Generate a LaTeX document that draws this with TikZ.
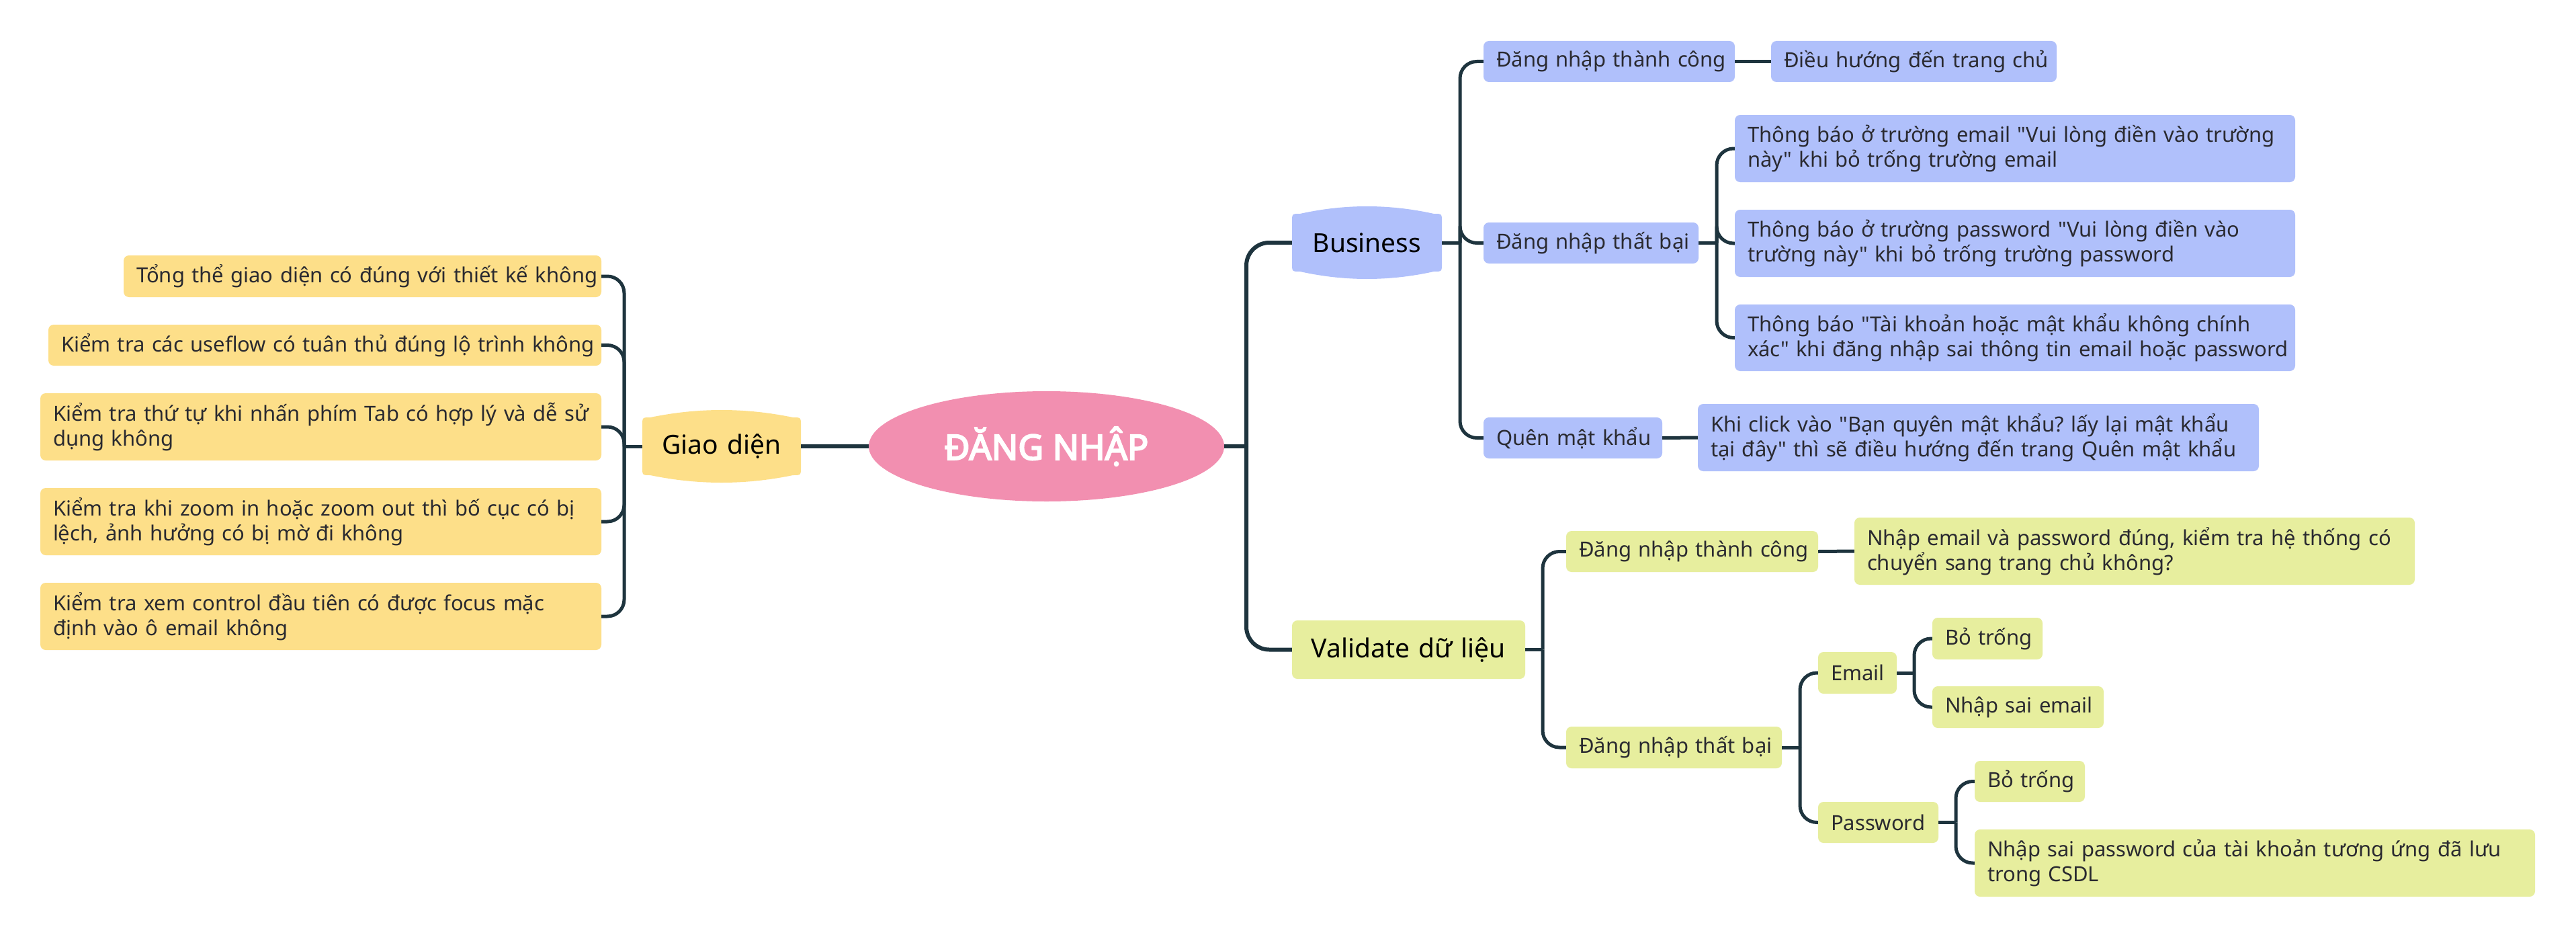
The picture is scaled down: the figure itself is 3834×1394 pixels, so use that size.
\documentclass[tikz,border=0pt]{standalone}
\usepackage{fontspec}
\setmainfont{Noto Sans}[Ligatures=TeXOff]
\newfontfamily\rootfont{Noto Sans}[Ligatures=TeXOff,FakeBold=4]
\usetikzlibrary{shapes.geometric}
\definecolor{yel}{HTML}{FDDF89}
\definecolor{blu}{HTML}{B0C0FB}
\definecolor{grn}{HTML}{E7EE9E}
\definecolor{pnk}{HTML}{F28FB0}
\definecolor{linec}{HTML}{1E343E}
\definecolor{txtc}{HTML}{2A2A30}
\frenchspacing
\newcommand\mmnode[7]{%
  \pgfmathsetmacro\mmw{#4-#2}\pgfmathsetmacro\mmh{#5-#3}%
  \pgfmathsetmacro\mmtw{#4-#2-38}%
  \node[#6, minimum width=\mmw pt, minimum height=\mmh pt, text width=\mmtw pt] (#1) at ({(#2+#4)/2},{(#3+#5)/2}) {#7};}
\newcommand\bulgebox[5]{%
  \pgfmathsetmacro\bgt{(#3-#1-24)/3}%
  \fill[#5] (#1,{#2+23}) .. controls (#1,{#2+11}) .. ({#1+12},{#2+11})
   .. controls ({#1+12+\bgt},{#2-11/3}) and ({#3-12-\bgt},{#2-11/3}) .. ({#3-12},{#2+11})
   .. controls (#3,{#2+11}) .. (#3,{#2+23})
   -- (#3,{#4-23}) .. controls (#3,{#4-11}) .. ({#3-12},{#4-11})
   .. controls ({#3-12-\bgt},{#4+11/3}) and ({#1+12+\bgt},{#4+11/3}) .. ({#1+12},{#4-11})
   .. controls (#1,{#4-11}) .. (#1,{#4-23}) -- cycle;}
\begin{document}
\begin{tikzpicture}[x=1pt,y=-1pt,
  conn/.style={draw=linec, line width=5pt, rounded corners=25pt},
  mconn/.style={draw=linec, line width=6pt, rounded corners=34pt},
  leaf/.style={rectangle, rounded corners=8pt, inner xsep=19pt, inner ysep=0pt, align=left, text=txtc, font=\fontsize{31}{37}\selectfont},
  yleaf/.style={leaf, fill=yel},
  bleaf/.style={leaf, fill=blu},
  gleaf/.style={leaf, fill=grn},
  mainlbl/.style={rectangle, inner xsep=19pt, inner ysep=0pt, align=center, text=black, font=\fontsize{39}{45}\selectfont}]
\fill[white] (0,0) rectangle (3834,1394);
\useasboundingbox (0,0) rectangle (3834,1394);

% root
\node[ellipse, fill=pnk, minimum width=529pt, minimum height=164pt, inner sep=0pt, text=white, font=\rootfont\fontsize{52}{58}\selectfont] (root) at (1557.5,664) {ĐĂNG NHẬP};

% Giao dien
\bulgebox{956}{610}{1192}{718}{yel}
\mmnode{gd}{956}{610}{1192}{718}{mainlbl}{Giao diện}
\mmnode{y1}{184}{380}{895}{442}{yleaf}{\mbox{Tổng thể giao diện có đúng với thiết kế không}}
\mmnode{y2}{72}{483}{895}{544}{yleaf}{\mbox{Kiểm tra các useflow có tuân thủ đúng lộ trình không}}
\mmnode{y3}{60}{585}{895}{685}{yleaf}{\mbox{Kiểm tra thứ tự khi nhấn phím Tab có hợp lý và dễ sử}\\\mbox{dụng không}}
\mmnode{y4}{60}{726}{895}{826}{yleaf}{\mbox{Kiểm tra khi zoom in hoặc zoom out thì bố cục có bị}\\\mbox{lệch, ảnh hưởng có bị mờ đi không}}
\mmnode{y5}{60}{867}{895}{967}{yleaf}{\mbox{Kiểm tra xem control đầu tiên có được focus mặc}\\\mbox{định vào ô email không}}

% Business
\bulgebox{1923}{307}{2146}{415}{blu}
\mmnode{biz}{1923}{307}{2146}{415}{mainlbl}{Business}
\mmnode{b1}{2208}{61}{2582}{122}{bleaf}{\mbox{Đăng nhập thành công}}
\mmnode{b1a}{2636}{61}{3061}{122}{bleaf}{\mbox{Điều hướng đến trang chủ}}
\mmnode{b2}{2208}{331}{2528}{392}{bleaf}{\mbox{Đăng nhập thất bại}}
\mmnode{b2a}{2582}{171}{3416}{271}{bleaf}{\mbox{Thông báo ở trường email "Vui lòng điền vào trường}\\\mbox{này" khi bỏ trống trường email}}
\mmnode{b2b}{2582}{312}{3416}{412}{bleaf}{\mbox{Thông báo ở trường password "Vui lòng điền vào}\\\mbox{trường này" khi bỏ trống trường password}}
\mmnode{b2c}{2582}{453}{3416}{552}{bleaf}{\mbox{Thông báo "Tài khoản hoặc mật khẩu không chính}\\\mbox{xác" khi đăng nhập sai thông tin email hoặc password}}
\mmnode{b3}{2208}{621}{2474}{682}{bleaf}{\mbox{Quên mật khẩu}}
\mmnode{b3a}{2527}{601}{3362}{701}{bleaf}{\mbox{Khi click vào "Bạn quyên mật khẩu? lấy lại mật khẩu}\\\mbox{tại đây" thì sẽ điều hướng đến trang Quên mật khẩu}}

% Validate
\mmnode{val}{1923}{923}{2270}{1010}{gleaf, mainlbl}{Validate dữ liệu}
\mmnode{v1}{2331}{790}{2706}{851}{gleaf}{\mbox{Đăng nhập thành công}}
\mmnode{v1a}{2760}{770}{3594}{870}{gleaf}{\mbox{Nhập email và password đúng, kiểm tra hệ thống có}\\\mbox{chuyển sang trang chủ không?}}
\mmnode{v2}{2331}{1081}{2652}{1143}{gleaf}{\mbox{Đăng nhập thất bại}}
\mmnode{em}{2706}{970}{2823}{1032}{gleaf}{\mbox{Email}}
\mmnode{e1}{2876}{919}{3040}{981}{gleaf}{\mbox{Bỏ trống}}
\mmnode{e2}{2876}{1021}{3131}{1083}{gleaf}{\mbox{Nhập sai email}}
\mmnode{pw}{2706}{1193}{2885}{1254}{gleaf}{\mbox{Password}}
\mmnode{p1}{2939}{1132}{3103}{1193}{gleaf}{\mbox{Bỏ trống}}
\mmnode{p2}{2939}{1234}{3773}{1334}{gleaf}{\mbox{Nhập sai password của tài khoản tương ứng đã lưu}\\\mbox{trong CSDL}}

% junctions
\coordinate (gdj) at (929,664);
\coordinate (rj) at (1855,664);
\coordinate (bj) at (2173,361);
\coordinate (b2j) at (2555,361.5);
\coordinate (vj) at (2296,966.5);
\coordinate (v2j) at (2679,1112);
\coordinate (ej) at (2849,1001);
\coordinate (pj) at (2911,1223.5);

% connectors
\draw[mconn] (gd.east) -- (root.west);
\draw[conn] (gd.west) -- (gdj);
\foreach \n in {y1,y2,y3,y4,y5} \draw[conn] (gdj) |- (\n.east);
\draw[mconn] (root.east) -- (rj);
\draw[mconn] (rj) |- (biz.west);
\draw[mconn] (rj) |- (val.west);
\draw[conn] (biz.east) -- (bj);
\foreach \n in {b1,b2,b3} \draw[conn] (bj) |- (\n.west);
\draw[conn] (b1.east) -- (b1a.west);
\draw[conn] (b2.east) -- (b2j);
\foreach \n in {b2a,b2b,b2c} \draw[conn] (b2j) |- (\n.west);
\draw[conn] (b3.east) -- (b3a.west);
\draw[conn] (val.east) -- (vj);
\foreach \n in {v1,v2} \draw[conn] (vj) |- (\n.west);
\draw[conn] (v1.east) -- (v1a.west);
\draw[conn] (v2.east) -- (v2j);
\foreach \n in {em,pw} \draw[conn] (v2j) |- (\n.west);
\draw[conn] (em.east) -- (ej);
\foreach \n in {e1,e2} \draw[conn] (ej) |- (\n.west);
\draw[conn] (pw.east) -- (pj);
\foreach \n in {p1,p2} \draw[conn] (pj) |- (\n.west);
\end{tikzpicture}
\end{document}
